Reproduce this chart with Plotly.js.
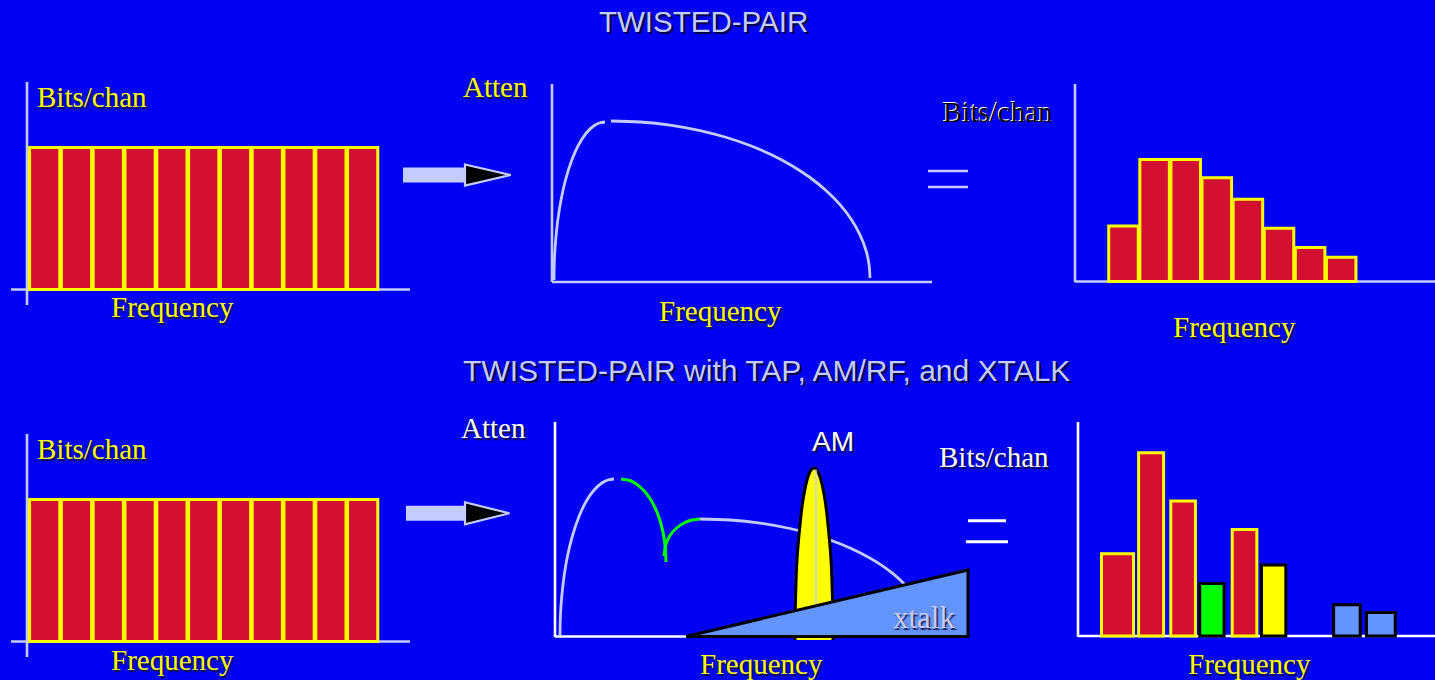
<!DOCTYPE html>
<html>
<head>
<meta charset="utf-8">
<script src="https://cdn.plot.ly/plotly-3.0.1.min.js"></script>
<style>html,body{margin:0;padding:0;background:#0000f2;}#chart{width:1435px;height:680px;}</style>
</head>
<body>
<div id="chart"></div>
<script>
// ---------- DATA ----------
const channelsA = [0,1,2,3,4,5,6,7,8,9,10];
const bitsA     = [10,10,10,10,10,10,10,10,10,10,10];
const channelsD = [0,1,2,3,4,5,6,7,8,9,10];
const bitsD     = [10,10,10,10,10,10,10,10,10,10,10];

const attenTopFreq1 = [0.2,0.24,0.37,0.58,0.9,1.35,1.98,2.65,3.43,4.16,4.73,5.3];
const attenTop1     = [0.2,2.2,4.2,6.2,8.2,10.2,12.2,13.7,14.9,15.6,15.9,16.0];
const attenTopFreq2 = [5.9,8.8,11.8,14.8,17.3,19.8,22.0,24.0,25.8,27.4,28.8,29.9,30.8,31.4,31.7,31.8];
const attenTop2     = [16.1,16.0,15.69,15.14,14.5,13.65,12.7,11.63,10.45,9.15,7.73,6.3,4.72,3.15,1.78,0.4];

const channelsC = [0,1,2,3,4,5,6,7];
const bitsC     = [3.9,8.6,8.6,7.3,5.8,3.75,2.4,1.7];

const attenBotFreq1 = [0.5,0.54,0.68,0.91,1.25,1.74,2.42,3.14,3.91,4.69,5.29,5.9];
const attenBot1     = [0.05,2.05,4.05,6.05,8.05,10.05,12.05,13.55,14.65,15.35,15.65,15.75];
const tapFreqA = [6.6,7.6,8.5,9.3,9.9,10.4,10.75,11.0,11.1];
const tapAttA  = [15.75,15.55,14.97,14.09,13.09,11.9,10.66,9.19,7.45];
const tapFreqB = [10.9,11.1,11.5,12.1,12.9,13.7,14.5];
const tapAttB  = [8.05,9.25,10.1,10.8,11.35,11.65,11.75];
const attenBotFreq2 = [14.5,17.5,20.5,23.5,26.0,28.5,30.5,32.3,33.8,35.0,36.0,36.7,37.1,37.3];
const attenBot2     = [11.75,11.65,11.34,10.8,10.15,9.28,8.38,7.36,6.28,5.17,3.94,2.72,1.6,0.05];
const amFreq  = [24.0,24.05,24.2,24.55,24.8,25.2,25.6,25.9,26.2,26.6,27.0,27.25,27.6,27.75,27.8];
const amLevel = [-0.35,3.65,7.65,11.65,13.65,15.65,16.65,16.85,16.65,15.65,13.65,11.65,7.65,3.65,-0.35];
const amCarrierFreq  = [26.1,26.1];
const amCarrierLevel = [-0.2,16.7];
const xtalkFreq  = [13.1,41.3,41.3,13.1];
const xtalkLevel = [0,6.65,0,0];

const redChF    = [0,1.05,2.05,3.97];
const redBitsF  = [5.8,12.9,9.5,7.5];
const tapChF    = [2.95];
const tapBitsF  = [3.7];
const amChF     = [4.88];
const amBitsF   = [5.0];
const xtChF     = [7.17,8.23];
const xtBitsF   = [2.2,1.65];

// ---------- LAYOUT GEOMETRY ----------
const W = 1435, H = 680;
const fx = p => p / W;
const fy = p => 1 - p / H;
const BG = '#0000f2', LAV = '#c4ccff', RED = '#d21131', YEL = '#ffff00', GRN = '#00ff00', LBLUE = '#6495ff';
const SERIF = 'Liberation Serif, Times New Roman, serif';
const SANS = 'Liberation Sans, Arial, sans-serif';

const P = {
  A: {L:11,  R:410,  T:82,  B:305, x0:44.7,   y0:289.5, ux:31.8, uy:14.2},
  B: {L:552, R:934,  T:84,  B:284, x0:552,    y0:282,   ux:10,   uy:10},
  C: {L:1075,R:1435, T:84,  B:284, x0:1123.5, y0:281.5, ux:31.1, uy:14.2},
  D: {L:11,  R:410,  T:434, B:657, x0:44.7,   y0:641.5, ux:31.8, uy:14.2},
  E: {L:555, R:972,  T:422, B:645, x0:555,    y0:636.5, ux:10,   uy:10},
  F: {L:1078,R:1435, T:422, B:640, x0:1117.5, y0:636,   ux:32,   uy:14.2}
};
const order = ['A','B','C','D','E','F'];
const layout = {
  width: W, height: H, margin: {l:0,r:0,t:0,b:0,pad:0},
  paper_bgcolor: BG, plot_bgcolor: 'rgba(0,0,0,0)',
  showlegend: false, barmode: 'overlay', bargap: 0,
  shapes: [], annotations: []
};
order.forEach((k, i) => {
  const p = P[k];
  const n = i === 0 ? '' : String(i + 1);
  const hid = {visible:false, showgrid:false, zeroline:false, showticklabels:false, fixedrange:true, autorange:false};
  layout['xaxis' + n] = Object.assign({}, hid, {
    domain: [fx(p.L), fx(p.R)],
    range: [(p.L - p.x0) / p.ux, (p.R - p.x0) / p.ux],
    anchor: 'y' + n
  });
  layout['yaxis' + n] = Object.assign({}, hid, {
    domain: [fy(p.B), fy(p.T)],
    range: [(p.y0 - p.B) / p.uy, (p.y0 - p.T) / p.uy],
    anchor: 'x' + n
  });
});
const ax = k => { const i = order.indexOf(k); return i === 0 ? ['x','y'] : ['x'+(i+1), 'y'+(i+1)]; };

function pline(x0, y0, x1, y1, color, w) {
  layout.shapes.push({type:'line', xref:'paper', yref:'paper', layer:'below',
    x0: fx(x0), y0: fy(y0), x1: fx(x1), y1: fy(y1), line:{color, width:w}});
}
pline(27, 82, 27, 305, LAV, 2.6);   pline(11, 289.5, 410, 289.5, LAV, 2.6);
pline(552, 84, 552, 282, LAV, 2.6); pline(552, 282, 932, 282, LAV, 2.6);
pline(1075, 84, 1075, 282, LAV, 2.6); pline(1075, 281.5, 1435, 281.5, LAV, 2.6);
pline(27, 434, 27, 657, LAV, 2.6);  pline(11, 641.5, 410, 641.5, LAV, 2.6);
pline(555, 422, 555, 637, '#ffffff', 2.6); pline(555, 636.5, 935, 636.5, '#ffffff', 2.6);
pline(1078, 422, 1078, 637, '#ffffff', 2.6); pline(1078, 636, 1435, 636, '#ffffff', 2.6);
// equals signs
pline(928, 171, 968, 171, LAV, 2.6); pline(928, 187, 968, 187, LAV, 2.6);
pline(968, 520.7, 1006, 520.7, '#ffffff', 3); pline(966, 541.7, 1008, 541.7, '#ffffff', 3);
// arrows
function arrow(xs, xh, xt, yc, sh, hh) {
  layout.shapes.push({type:'rect', xref:'paper', yref:'paper', layer:'above',
    x0: fx(xs), x1: fx(xh), y0: fy(yc - sh), y1: fy(yc + sh), fillcolor: LAV, line:{width:0}});
  layout.shapes.push({type:'path', xref:'paper', yref:'paper', layer:'above',
    path: `M ${fx(xh)} ${fy(yc - hh)} L ${fx(xt)} ${fy(yc)} L ${fx(xh)} ${fy(yc + hh)} Z`,
    fillcolor: '#000000', line:{color: LAV, width: 2.2}});
}
arrow(403, 465, 510.7, 175, 7.5, 10.5);
arrow(406, 465, 509.4, 513.3, 7.5, 11);

function txt(t, x, y, size, color, fam, shadow) {
  layout.annotations.push({text: t, xref:'paper', yref:'paper', x: fx(x), y: fy(y),
    xanchor:'center', yanchor:'middle', showarrow:false,
    font:{family: fam, size, color, shadow: shadow || 'none'}});
}
const dsh = '1.5px 1.5px 1px #101040';
txt('TWISTED-PAIR', 703, 22, 29.5, LAV, SANS, '2px 2px 1px #000040');
txt('TWISTED-PAIR with TAP, AM/RF, and XTALK', 766.5, 371, 30, LAV, SANS, '2px 2px 1px #000040');
txt('Bits/chan', 92, 97, 29, YEL, SERIF, dsh);
txt('Frequency', 172, 307, 29, YEL, SERIF, dsh);
txt('Atten', 495.5, 87, 29, YEL, SERIF, dsh);
txt('Frequency', 720, 311, 29, YEL, SERIF, dsh);
txt('Bits/chan', 998, 112.5, 29, '#000000', SERIF, '-1px -1px 0px #ffffff');
txt('Frequency', 1234.5, 326.7, 29, YEL, SERIF, dsh);
txt('Bits/chan', 92, 449, 29, YEL, SERIF, dsh);
txt('Frequency', 172, 660, 29, YEL, SERIF, dsh);
txt('Atten', 493.6, 427.5, 29, '#ffffff', SERIF, dsh);
txt('AM', 833, 441.7, 28, '#ffffff', SANS, dsh);
txt('Bits/chan', 993.5, 456.7, 29, '#ffffff', SERIF, dsh);
txt('xtalk', 923.6, 617.5, 31, '#c8ccf0', SERIF, '1.5px 1.5px 1px #202050');
txt('Frequency', 761, 664, 29, YEL, SERIF, dsh);
txt('Frequency', 1249, 664, 29, YEL, SERIF, dsh);

// ---------- TRACES ----------
const traces = [];
function bars(k, x, y, w, fill, edge) {
  const [xa, ya] = ax(k);
  traces.push({type:'bar', x, y, width: w, xaxis: xa, yaxis: ya, hoverinfo:'skip',
    marker:{color: fill, line:{color: edge, width: 3}}});
}
function curve(k, x, y, color, w) {
  const [xa, ya] = ax(k);
  traces.push({type:'scatter', mode:'lines', x, y, xaxis: xa, yaxis: ya, hoverinfo:'skip',
    line:{color, width: w, shape:'spline', smoothing: 1}});
}
function filled(k, x, y, fill, w, shape) {
  const [xa, ya] = ax(k);
  traces.push({type:'scatter', mode:'lines', x, y, xaxis: xa, yaxis: ya, hoverinfo:'skip',
    fill:'toself', fillcolor: fill, line:{color:'#000000', width: w, shape: shape || 'linear'}});
}

bars('A', channelsA, bitsA, 0.95, RED, YEL);
curve('B', attenTopFreq1, attenTop1, LAV, 2.8);
curve('B', attenTopFreq2, attenTop2, LAV, 2.8);
bars('C', channelsC, bitsC, 0.95, RED, YEL);
bars('D', channelsD, bitsD, 0.95, RED, YEL);

curve('E', attenBotFreq1, attenBot1, LAV, 2.8);
curve('E', tapFreqA, tapAttA, GRN, 3);
curve('E', tapFreqB, tapAttB, GRN, 3);
curve('E', attenBotFreq2, attenBot2, LAV, 2.8);
filled('E', amFreq, amLevel, YEL, 3, 'spline');
curve('E', amCarrierFreq, amCarrierLevel, LAV, 1.5);
filled('E', xtalkFreq, xtalkLevel, LBLUE, 3, 'linear');

bars('F', redChF, redBitsF, [1.0,0.78,0.77,0.77], RED, YEL);
bars('F', tapChF, tapBitsF, 0.76, GRN, '#000000');
bars('F', amChF, amBitsF, 0.76, YEL, '#000000');
bars('F', xtChF, xtBitsF, [0.83,0.9], LBLUE, '#000000');

Plotly.newPlot('chart', traces, layout, {staticPlot:true, displayModeBar:false});
</script>
</body>
</html>
